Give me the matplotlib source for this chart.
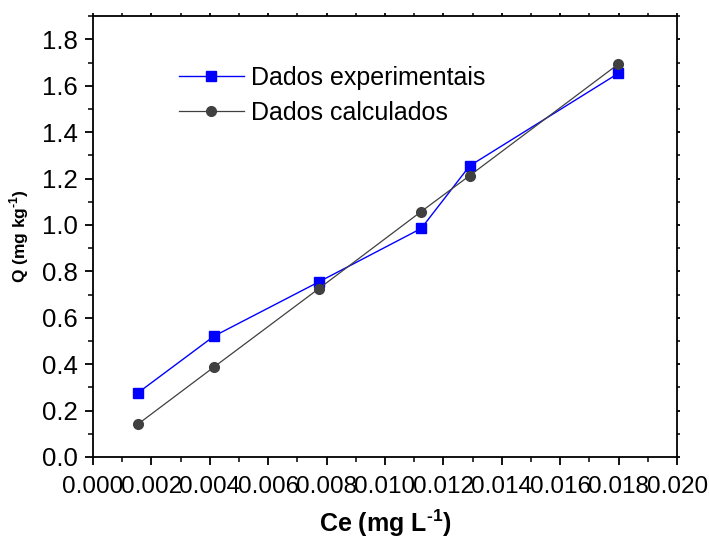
import matplotlib
matplotlib.use("Agg")
import matplotlib.pyplot as plt
from matplotlib.ticker import MultipleLocator, FormatStrFormatter

ce = [0.00155, 0.00415, 0.00774, 0.01124, 0.0129, 0.01799]
q_exp = [0.277, 0.521, 0.755, 0.985, 1.255, 1.654]
q_calc = [0.142, 0.388, 0.726, 1.058, 1.213, 1.694]

LABEL_EXP = "Dados experimentais"
LABEL_CALC = "Dados calculados"

plt.rcParams["font.family"] = ["Liberation Sans", "DejaVu Sans"]
plt.rcParams["mathtext.fontset"] = "custom"
plt.rcParams["mathtext.rm"] = "Liberation Sans:bold"
plt.rcParams["mathtext.bf"] = "Liberation Sans:bold"

fig = plt.figure(figsize=(7.09, 5.42), dpi=100)
ax = fig.add_axes([0.131, 0.157, 0.824, 0.813])

ax.plot(ce, q_exp, color="#0000ff", linewidth=1.0, marker="s", markersize=6.5,
        markerfacecolor="#0000ff", markeredgecolor="#0000ff", label=LABEL_EXP, zorder=3)
ax.plot(ce, q_calc, color="#404040", linewidth=0.9, marker="o", markersize=7,
        markerfacecolor="#404040", markeredgecolor="#404040", label=LABEL_CALC, zorder=3)

ax.set_xlim(0, 0.020)
ax.set_ylim(0, 1.9)
ax.xaxis.set_major_locator(MultipleLocator(0.002))
ax.xaxis.set_minor_locator(MultipleLocator(0.001))
ax.yaxis.set_major_locator(MultipleLocator(0.2))
ax.yaxis.set_minor_locator(MultipleLocator(0.1))
ax.xaxis.set_major_formatter(FormatStrFormatter("%.3f"))
ax.yaxis.set_major_formatter(FormatStrFormatter("%.1f"))

ax.tick_params(axis="both", which="major", direction="out", length=6, width=1.3)
ax.tick_params(axis="x", which="major", labelsize=17.5, pad=8)
ax.tick_params(axis="y", which="major", labelsize=18.5, pad=5)
ax.tick_params(axis="both", which="minor", direction="out", length=3.5, width=1.1)
ax.tick_params(which="both", top=True, right=True, labeltop=False, labelright=False)
for t in ax.xaxis.get_major_ticks() + ax.xaxis.get_minor_ticks():
    t.tick2line.set_markersize(2)
for t in ax.yaxis.get_major_ticks() + ax.yaxis.get_minor_ticks():
    t.tick2line.set_markersize(2)

for spine in ax.spines.values():
    spine.set_linewidth(1.3)

ax.set_xlabel(r"Ce (mg L$^{\text{-1}}$)", fontsize=18, fontweight="bold", labelpad=7)
ax.set_ylabel(r"Q (mg kg$^{\text{-1}}$)", fontsize=12.5, fontweight="bold", labelpad=8)

ax.legend(loc="upper left", bbox_to_anchor=(0.13, 0.91), frameon=False, fontsize=18,
          handlelength=2.6, handletextpad=0.3, labelspacing=0.45, borderaxespad=0)

fig.savefig("out.png", dpi=100)
